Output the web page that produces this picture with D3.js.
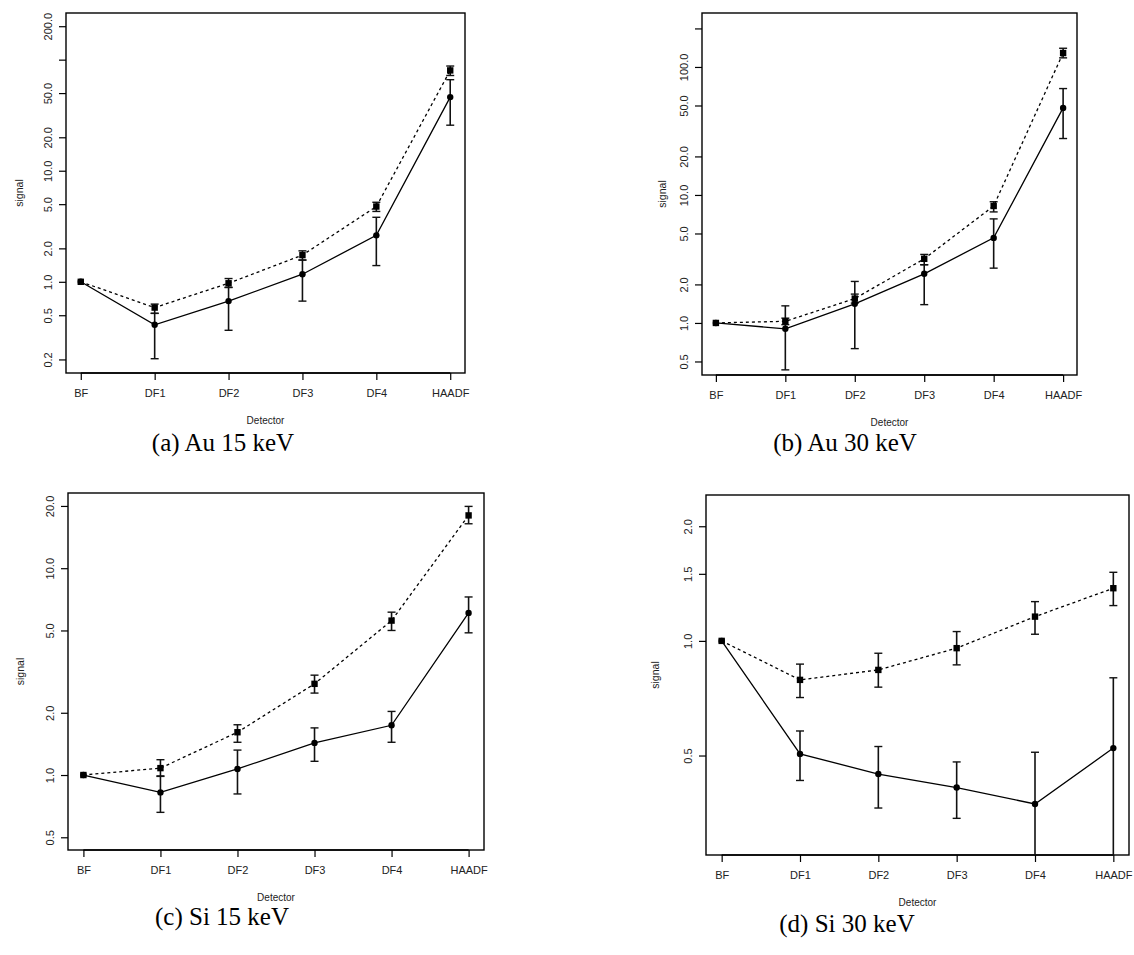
<!DOCTYPE html>
<html><head><meta charset="utf-8">
<script src="https://cdn.jsdelivr.net/npm/d3@7"></script>
<style>
html,body{margin:0;padding:0;background:#fff;}
svg{display:block;}
</style></head>
<body>
<svg id="chart" width="1134" height="955"></svg>
<script>
// ---------- data ----------
const categories = ["BF","DF1","DF2","DF3","DF4","HAADF"];

// (a) Au 15 keV
const aTicks = [0.2,0.5,1,2,5,10,20,50,100,200];
const aTickLabels = ["0.2","0.5","1.0","2.0","5.0","10.0","20.0","50.0","","200.0"];
const aDomain = [0.151, 263];
const aSolid = [1.0, 0.41, 0.67, 1.17, 2.62, 46];
const aSolidLo = [1.0, 0.203, 0.366, 0.67, 1.40, 25.7];
const aSolidHi = [1.0, 0.52, 0.89, 1.57, 3.81, 66];
const aDash = [1.0, 0.586, 0.97, 1.74, 4.76, 80];
const aDashLo = [1.0, 0.52, 0.89, 1.57, 4.3, 72];
const aDashHi = [1.0, 0.63, 1.07, 1.9, 5.2, 87.6];

// (b) Au 30 keV
const bTicks = [0.5,1,2,5,10,20,50,100,200];
const bTickLabels = ["0.5","1.0","2.0","5.0","10.0","20.0","50.0","100.0",""];
const bDomain = [0.392, 264];
const bSolid = [1.0, 0.90, 1.41, 2.42, 4.62, 47.9];
const bSolidLo = [1.0, 0.43, 0.63, 1.39, 2.68, 27.6];
const bSolidHi = [1.0, 1.36, 2.11, 2.85, 6.5, 67.8];
const bDash = [1.0, 1.03, 1.55, 3.17, 8.2, 128.5];
const bDashLo = [1.0, 0.97, 1.43, 2.85, 7.37, 117.8];
const bDashHi = [1.0, 1.09, 1.68, 3.43, 8.85, 140];

// (c) Si 15 keV
const cTicks = [0.5,1,2,5,10,20];
const cTickLabels = ["0.5","1.0","2.0","5.0","10.0","20.0"];
const cDomain = [0.434, 23.1];
const cSolid = [1.0, 0.824, 1.07, 1.43, 1.74, 6.08];
const cSolidLo = [1.0, 0.66, 0.81, 1.165, 1.44, 4.87];
const cSolidHi = [1.0, 0.99, 1.32, 1.69, 2.03, 7.26];
const cDash = [1.0, 1.08, 1.61, 2.76, 5.58, 18.0];
const cDashLo = [1.0, 0.985, 1.44, 2.49, 5.0, 16.4];
const cDashHi = [1.0, 1.186, 1.75, 3.04, 6.13, 19.9];

// (d) Si 30 keV
const dTicks = [0.5,1.0,1.5,2.0];
const dTickLabels = ["0.5","1.0","1.5","2.0"];
const dDomain = [0.274, 2.416];
const dSolid = [1.0, 0.505, 0.447, 0.412, 0.373, 0.523];
const dSolidLo = [1.0, 0.43, 0.364, 0.342, 0.2, 0.2];
const dSolidHi = [1.0, 0.58, 0.528, 0.481, 0.51, 0.80];
const dDash = [1.0, 0.79, 0.839, 0.957, 1.158, 1.375];
const dDashLo = [1.0, 0.71, 0.756, 0.865, 1.041, 1.238];
const dDashHi = [1.0, 0.869, 0.928, 1.058, 1.268, 1.514];

const captions = ["(a) Au 15 keV","(b) Au 30 keV","(c) Si 15 keV","(d) Si 30 keV"];

// ---------- layout ----------
const panels = [
  {box:[66,13,465,373], ticks:aTicks, labels:aTickLabels, domain:aDomain, s:aSolid, sl:aSolidLo, sh:aSolidHi, d:aDash, dl:aDashLo, dh:aDashHi, cap:captions[0], capPos:[223,451], ylab:-47},
  {box:[702,13,1077,375], ticks:bTicks, labels:bTickLabels, domain:bDomain, s:bSolid, sl:bSolidLo, sh:bSolidHi, d:bDash, dl:bDashLo, dh:bDashHi, cap:captions[1], capPos:[845,451], ylab:-40},
  {box:[68,493,484,850], ticks:cTicks, labels:cTickLabels, domain:cDomain, s:cSolid, sl:cSolidLo, sh:cSolidHi, d:cDash, dl:cDashLo, dh:cDashHi, cap:captions[2], capPos:[222,925], ylab:-48},
  {box:[706,495,1129,855], ticks:dTicks, labels:dTickLabels, domain:dDomain, s:dSolid, sl:dSolidLo, sh:dSolidHi, d:dDash, dl:dDashLo, dh:dDashHi, cap:captions[3], capPos:[847,932], ylab:-51}
];

const svg = d3.select("#chart");
const font = '"Liberation Sans", Arial, sans-serif';

panels.forEach(p => {
  const [x0,y0,x1,y1] = p.box;
  const x = d3.scaleLinear().domain([0.8, 6.2]).range([x0, x1]);
  const y = d3.scaleLog().domain(p.domain).range([y1, y0]);
  const g = svg.append("g");

  const clipId = "clip" + x0 + "_" + y0;
  svg.append("clipPath").attr("id", clipId).append("rect")
    .attr("x", x0).attr("y", y0).attr("width", x1-x0).attr("height", y1-y0);

  // box
  g.append("rect").attr("x",x0).attr("y",y0).attr("width",x1-x0).attr("height",y1-y0)
    .attr("fill","none").attr("stroke","#000").attr("stroke-width",1.4);

  // y axis
  const yAxis = d3.axisLeft(y).tickValues(p.ticks).tickSize(7).tickPadding(5)
    .tickFormat((d,i) => p.labels[i]);
  const ya = g.append("g").attr("transform",`translate(${x0},0)`).call(yAxis);
  ya.select(".domain").attr("stroke","none");
  ya.selectAll(".tick line").attr("stroke-width",1.2);
  ya.selectAll(".tick text")
    .attr("font-size",11).attr("font-family",font).attr("fill","#222")
    .attr("text-anchor","middle").attr("dy",0)
    .attr("transform", "translate(-14,0) rotate(-90)")
    .attr("x",0).attr("y",0);

  // x axis
  const xAxis = d3.axisBottom(x).tickValues(d3.range(1,7)).tickSize(7).tickPadding(9)
    .tickFormat(i => categories[i-1]);
  const xa = g.append("g").attr("transform",`translate(0,${y1})`).call(xAxis);
  xa.select(".domain").attr("d", `M${x(1)},0H${x(6)}`).attr("stroke-width",1.4);
  xa.selectAll(".tick line").attr("stroke-width",1.2);
  xa.selectAll(".tick text").attr("font-size",11).attr("font-family",font).attr("fill","#222");

  // axis titles
  g.append("text").attr("x",(x0+x1)/2).attr("y",y1+51).attr("text-anchor","middle")
    .attr("font-size",10).attr("font-family",font).attr("fill","#222").text("Detector");
  g.append("text").attr("transform",`translate(${x0+p.ylab+4},${(y0+y1)/2}) rotate(-90)`)
    .attr("text-anchor","middle").attr("font-size",10.5).attr("font-family",font).attr("fill","#222").text("signal");

  // caption
  svg.append("text").attr("x",p.capPos[0]).attr("y",p.capPos[1]).attr("text-anchor","middle")
    .attr("font-size",25).attr("font-family",'"Liberation Serif","Times New Roman",serif').attr("fill","#000").text(p.cap);

  const plot = g.append("g").attr("clip-path",`url(#${clipId})`);
  const idx = d3.range(6);
  const line = d3.line().x(i => x(i+1));

  // error bars
  const drawErr = (lo, hi) => {
    idx.forEach(i => {
      if (lo[i] === hi[i]) return;
      const xx = x(i+1);
      plot.append("line").attr("x1",xx).attr("x2",xx).attr("y1",y(lo[i])).attr("y2",y(hi[i]))
        .attr("stroke","#111").attr("stroke-width",1.6);
      [lo[i],hi[i]].forEach(v => {
        plot.append("line").attr("x1",xx-4).attr("x2",xx+4).attr("y1",y(v)).attr("y2",y(v))
          .attr("stroke","#111").attr("stroke-width",1.4);
      });
    });
  };
  drawErr(p.sl, p.sh);
  drawErr(p.dl, p.dh);

  // dashed series
  plot.append("path").datum(idx).attr("d", line.y(i => y(p.d[i])))
    .attr("fill","none").attr("stroke","#000").attr("stroke-width",1.3).attr("stroke-dasharray","3,3");
  // solid series
  plot.append("path").datum(idx).attr("d", line.y(i => y(p.s[i])))
    .attr("fill","none").attr("stroke","#000").attr("stroke-width",1.3);

  // markers
  plot.selectAll(null).data(idx).enter().append("rect")
    .attr("x", i => x(i+1)-3.2).attr("y", i => y(p.d[i])-3.2)
    .attr("width",6.4).attr("height",6.4).attr("fill","#000");
  plot.selectAll(null).data(idx).enter().append("circle")
    .attr("cx", i => x(i+1)).attr("cy", i => y(p.s[i])).attr("r",3.2).attr("fill","#000");
});
</script>
</body></html>
